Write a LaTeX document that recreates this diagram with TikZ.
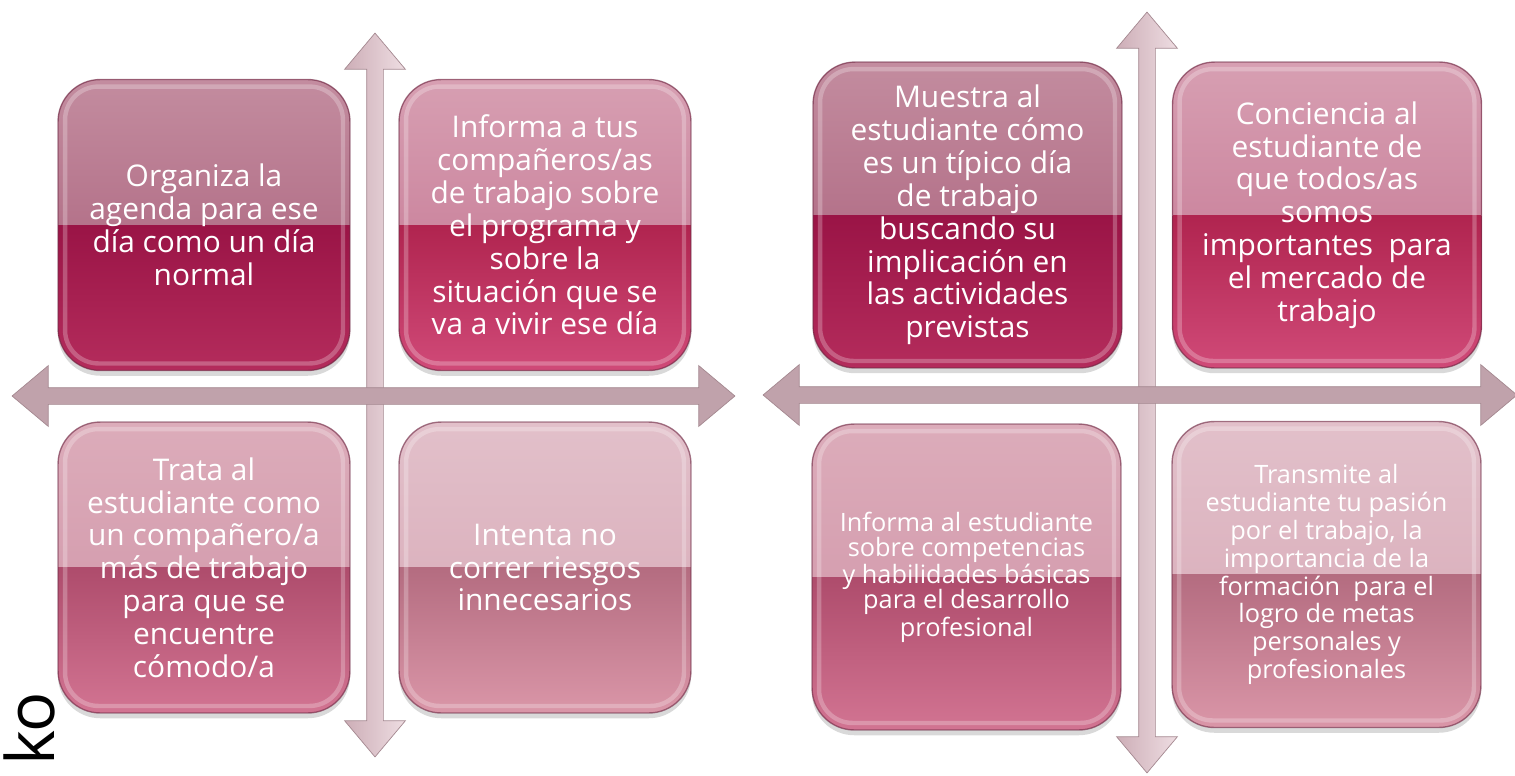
\documentclass[tikz,border=0pt]{standalone}
\usepackage{fontspec}
\setmainfont{Open Sans}
\usetikzlibrary{positioning,shapes.arrows,shadows}

\definecolor{rubyT}{HTML}{C38C9F}
\definecolor{rubyU}{HTML}{A65A76}
\definecolor{rubyL}{HTML}{9A1446}
\definecolor{rubyB}{HTML}{B42C5C}
\definecolor{roseT}{HTML}{D79FB2}
\definecolor{roseU}{HTML}{C2708E}
\definecolor{roseL}{HTML}{B0244F}
\definecolor{roseB}{HTML}{D04A78}
\definecolor{blushT}{HTML}{DCACBA}
\definecolor{blushU}{HTML}{CF92A6}
\definecolor{blushL}{HTML}{AE4C6C}
\definecolor{blushB}{HTML}{D27492}
\definecolor{paleT}{HTML}{E2C0CA}
\definecolor{paleU}{HTML}{D6A6B4}
\definecolor{paleL}{HTML}{B46C80}
\definecolor{paleB}{HTML}{DA96A8}
\definecolor{barH}{HTML}{C0A2AB}
\definecolor{barTop}{HTML}{EEDDE2}
\definecolor{barBot}{HTML}{CDAEB7}
\definecolor{barEdge}{HTML}{A48890}
\definecolor{boxline}{HTML}{6E2A44}

\begin{document}
\begin{tikzpicture}
    [x=0.02cm,y=-0.02cm,
     axis/.style={double arrow,double arrow tip angle=80,double arrow head extend=0.44cm,
       inner xsep=0pt,inner ysep=0.16cm,draw=barEdge,line width=0.4pt},
     tile/.style n args={4}{rectangle,rounded corners=24pt,draw=boxline,draw opacity=0.6,
       line width=0.8pt,text=white,align=center,inner sep=0pt,fill=#4,
       drop shadow={opacity=0.3,shadow xshift=0pt,shadow yshift=-3pt},
       path picture={
         \shade[sharp corners,top color=#1,bottom color=#2] (path picture bounding box.north west) rectangle (path picture bounding box.east);
         \shade[sharp corners,top color=#3,bottom color=#4] (path picture bounding box.west) rectangle (path picture bounding box.south east);
         \draw[white,opacity=0.25,line width=2.5pt,rounded corners=19pt]
           ([shift={(4pt,-4pt)}]path picture bounding box.north west) rectangle
           ([shift={(-4pt,4pt)}]path picture bounding box.south east);}},
     ruby/.style={tile={rubyT}{rubyU}{rubyL}{rubyB}},
     rose/.style={tile={roseT}{roseU}{roseL}{roseB}},
     blush/.style={tile={blushT}{blushU}{blushL}{blushB}},
     pale/.style={tile={paleT}{paleU}{paleL}{paleB}},
     small/.style={minimum width=5.84cm,minimum height=5.82cm},
     wide/.style={minimum width=6.18cm,minimum height=6.12cm},
     every node/.style={font=\fontsize{17}{18.7}\selectfont}]
    \useasboundingbox (0,0) rectangle (1515,775);

    % left matrix
    \node[axis,rotate=90,minimum height=14.48cm,left color=barBot,right color=barTop] (ly) at (375,395) {};
    \node[axis,minimum height=14.46cm,fill=barH] (lx) at (373.5,396) {};
    \node[ruby,small] (org) at (204,225) {Organiza la\\agenda para ese\\día como un día\\normal};
    \node[rose,small] (inf) at (545,225) {Informa a tus\\compañeros/as\\de trabajo sobre\\el programa y\\sobre la\\situación que se\\va a vivir ese día};
    \node[blush,small] (tra) at (204,567.5) {Trata al\\estudiante como\\un compañero/a\\más de trabajo\\para que se\\encuentre\\cómodo/a};
    \node[pale,small] (int) at (545,567.5) {Intenta no\\correr riesgos\\innecesarios};

    % right matrix
    \node[axis,rotate=90,minimum height=15.22cm,left color=barBot,right color=barTop] (ry) at (1147,392.5) {};
    \node[axis,minimum height=15.08cm,fill=barH] (rx) at (1140,395) {};
    \node[ruby,wide] (mue) at (967.5,215) {Muestra al\\estudiante cómo\\es un típico día\\de trabajo\\buscando su\\implicación en\\las actividades\\previstas};
    \node[rose,wide] (con) at (1327,215) {Conciencia al\\estudiante de\\que todos/as\\somos\\importantes~ para\\el mercado de\\trabajo};
    \node[blush,wide,font=\fontsize{14.4}{14.4}\selectfont] (est) at (966.5,577) {Informa al estudiante\\sobre competencias\\y habilidades básicas\\para el desarrollo\\profesional};
    \node[pale,wide,font=\fontsize{14.4}{15.9}\selectfont] (pas) at (1326.5,574.5) {Transmite al\\estudiante tu pasión\\por el trabajo, la\\importancia de la\\formación~ para el\\logro de metas\\personales y\\profesionales};

    \node[rotate=90,anchor=base west,font=\fontsize{38}{38}\selectfont] (logo) at (54,772) {ko};
\end{tikzpicture}
\end{document}
